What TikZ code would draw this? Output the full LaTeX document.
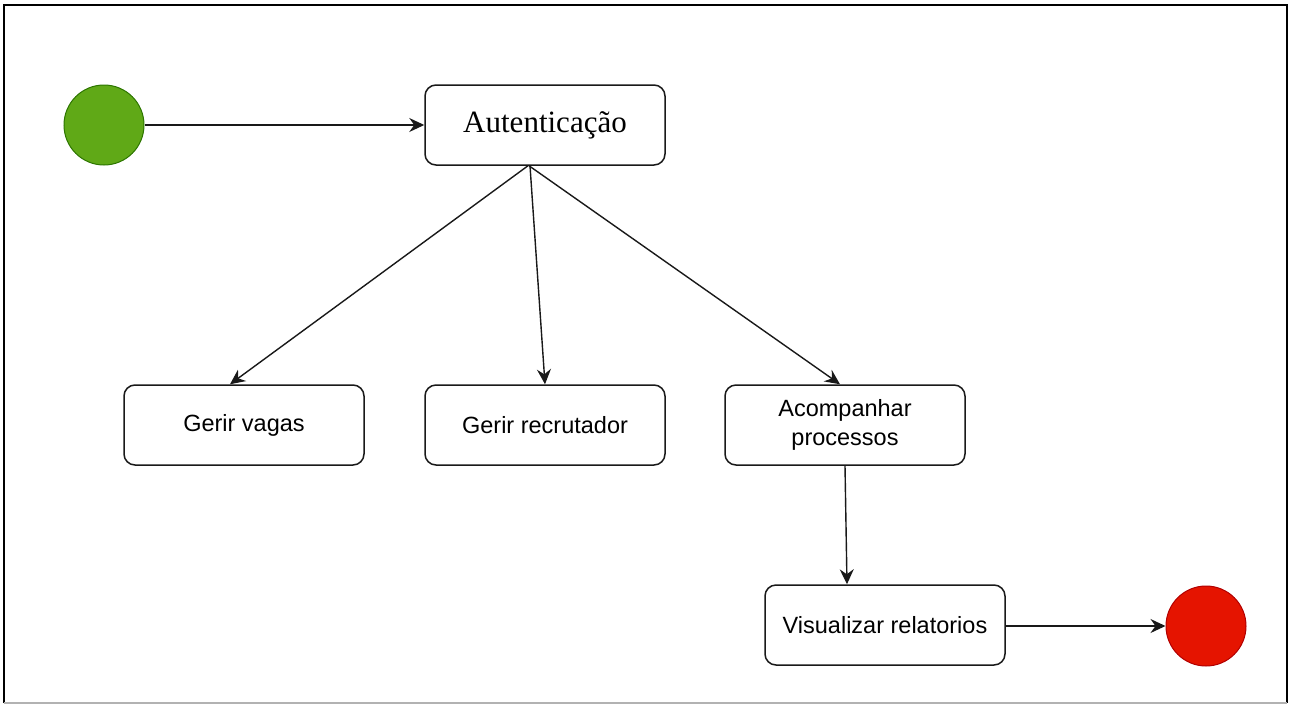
\documentclass[tikz,border=0pt]{standalone}
\usepackage{fontspec}
\setmainfont{Liberation Sans}
\newfontfamily\serifface{Liberation Serif}
\usetikzlibrary{arrows.meta}
\begin{document}
\begin{tikzpicture}[x=1pt,y=-1pt,
  stepbox/.style={draw=black!90,line width=1.5pt,rounded corners=11pt,minimum width=240pt,minimum height=80pt,align=center,font=\fontsize{23.5}{29}\selectfont,inner sep=0pt},
  conn/.style={draw=black!90,line width=1.4pt,-{Stealth[length=15pt,width=14pt,inset=5pt]}},
  startdot/.style={circle,minimum size=80pt,inner sep=0pt,fill={rgb,255:red,96;green,169;blue,23},draw={rgb,255:red,45;green,118;blue,0},line width=1pt},
  enddot/.style={circle,minimum size=80pt,inner sep=0pt,fill={rgb,255:red,229;green,20;blue,0},draw={rgb,255:red,178;green,0;blue,0},line width=1pt}]
\useasboundingbox (0,0) rectangle (1294,705);
\draw[line width=1.5pt,black] (4,703) -- (4,5) -- (1287,5) -- (1287,703);
\draw[line width=1.5pt,black!30] (4,703) -- (1287,703);
\node[startdot] (start) at (104,125) {};
\node[enddot] (end) at (1206,626) {};
\node[stepbox,font=\serifface\fontsize{31}{34}\selectfont] (aut) at (545,125) {Autenticação};
\node[stepbox] (gv) at (244,425) {Gerir vagas};
\node[stepbox] (gr) at (545,425) {Gerir recrutador};
\node[stepbox] (ap) at (845,425) {Acompanhar\\processos};
\node[stepbox] (vr) at (885,625) {Visualizar relatorios};
\draw[conn] (start) -- (aut);
\draw[conn] ([xshift=-17pt]aut.south) -- ([xshift=-14pt]gv.north);
\draw[conn] ([xshift=-15pt]aut.south) -- (gr.north);
\draw[conn] ([xshift=-16pt]aut.south) -- ([xshift=-5pt]ap.north);
\draw[conn] (ap.south) -- ([xshift=-38pt]vr.north);
\draw[conn] (vr.east |- end) -- (end);
\end{tikzpicture}
\end{document}
